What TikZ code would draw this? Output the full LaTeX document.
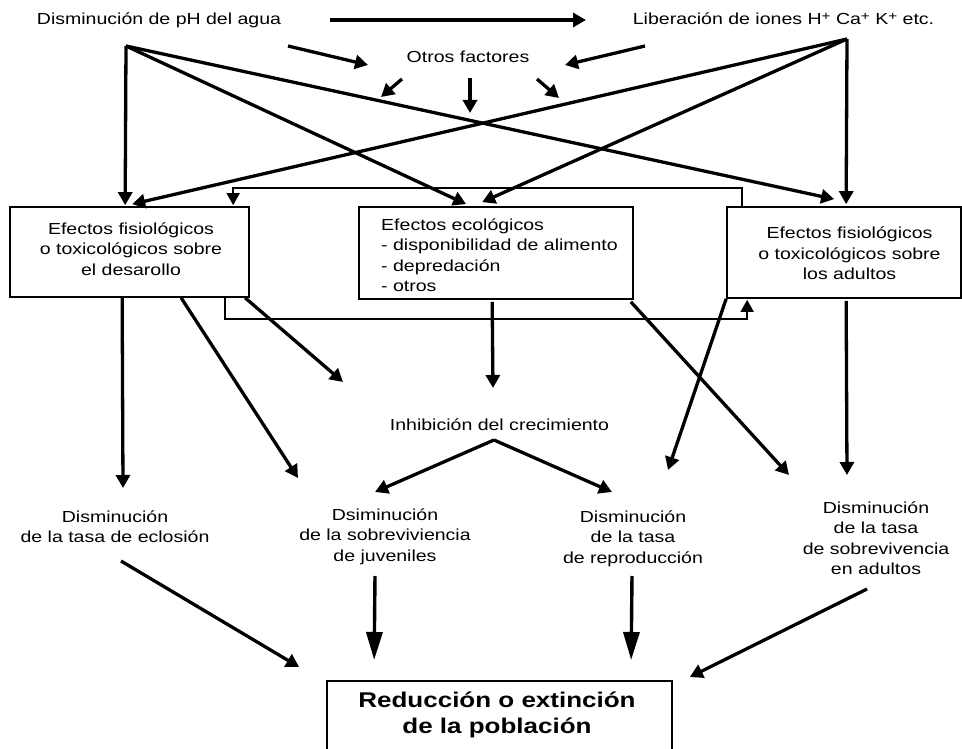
\documentclass[tikz,border=0pt]{standalone}
\usepackage{fontspec}
\setmainfont[FakeStretch=1.22]{Liberation Sans}
\usetikzlibrary{arrows.meta,calc}

% raised plus sign for the ion charges
\newcommand\ionplus{\raisebox{4.2pt}{\fontsize{12.5}{12.5}\selectfont+}}

\tikzset{
  lbl/.style={inner sep=0pt, anchor=base, font=\fontsize{16}{20.5}\selectfont},
  titlefont/.style={font=\fontsize{21.3}{26}\selectfont\bfseries},
  box/.style={draw, line width=1.7pt, inner sep=0pt},
  arr/.style={line width=3.3pt, -{Triangle[length=13pt,width=14pt]}},
  bigarr/.style={line width=3.4pt, -{Triangle[length=28pt,width=16pt]}},
  fb/.style={line width=1.6pt, -{Triangle[length=12pt,width=13pt]}},
}

\begin{document}
\begin{tikzpicture}[x=1pt,y=-1pt]
\useasboundingbox (0,0) rectangle (962,749);
\clip (0,0) rectangle (962,749);

% top row
\node[lbl] (ph)  at (159,24.5) {Disminución de pH del agua};
\node[lbl] (lib) at (783.5,25) {Liberación de iones H\ionplus{} Ca\ionplus{} K\ionplus{} etc.};
\node[lbl] (of)  at (468,63)   {Otros factores};

\coordinate (P1) at ($(ph.base)+(-33,21.5)$);
\coordinate (P2) at ($(lib.base)+(63.5,14)$);

% boxes
\node[box, minimum width=239pt, minimum height=90pt] (b1) at (129.5,252) {};
\node[box, minimum width=274pt, minimum height=92pt] (b2) at (496,253) {};
\node[box, minimum width=234pt, minimum height=91pt] (b3) at (844,252.5) {};
\node[box, minimum width=345pt, minimum height=120pt, anchor=north] (pop) at (499.5,680) {};

\node[lbl] (t1) at (131,234) {\begin{tabular}[t]{@{}c@{}}Efectos fisiológicos\\o toxicológicos sobre\\el desarollo\end{tabular}};
\node[lbl, anchor=base west] (t2) at (381,230) {\begin{tabular}[t]{@{}l@{}}Efectos ecológicos\\- disponibilidad de alimento\\- depredación\\- otros\end{tabular}};
\node[lbl] (t3) at (849.5,239) {\begin{tabular}[t]{@{}c@{}}Efectos fisiológicos\\o toxicológicos sobre\\los adultos\end{tabular}};

\node[lbl] (inh) at (499.5,430) {Inhibición del crecimiento};

\node[lbl] (l1) at (115,522) {\begin{tabular}[t]{@{}c@{}}Disminución\\de la tasa de eclosión\end{tabular}};
\node[lbl] (l2) at (385,520) {\begin{tabular}[t]{@{}c@{}}Dsiminución\\de la sobreviviencia\\de juveniles\end{tabular}};
\node[lbl] (l3) at (633,522) {\begin{tabular}[t]{@{}c@{}}Disminución\\de la tasa\\de reproducción\end{tabular}};
\node[lbl] (l4) at (876,513) {\begin{tabular}[t]{@{}c@{}}Disminución\\de la tasa\\de sobrevivencia\\en adultos\end{tabular}};

\node[lbl, titlefont] (ttl) at (497,707) {\begin{tabular}[t]{@{}c@{}}Reducción o extinción\\de la población\end{tabular}};

% top arrows
\draw[arr] ($(ph.base)+(171,-4.5)$) -- ($(lib.base)+(-197.5,-5)$);
\draw[arr] ($(of.base)+(-180,-17)$) -- ($(of.base)+(-100,2)$);
\draw[arr] ($(of.base)+(177,-17)$) -- ($(of.base)+(97,2)$);
\draw[arr] ($(of.base)+(-66,16)$) -- ($(of.base)+(-87,34)$);
\draw[arr] ($(of.base)+(2,15)$) -- ($(of.base)+(2,50)$);
\draw[arr] ($(of.base)+(69,16)$) -- ($(of.base)+(91,35)$);

% from the pH drop
\draw[arr] (P1) -- ($(b1.north west)+(116,-1)$);
\draw[arr] (P1) -- ($(b2.north west)+(108,-2)$);
\draw[arr] (P1) -- ($(b3.north west)+(108,-7)$);
% from the ion release
\draw[arr] (P2) -- ($(b3.north west)+(120,-2)$);
\draw[arr] (P2) -- ($(b1.north west)+(123,-2)$);
\draw[arr] (P2) -- ($(b2.north west)+(124,-4)$);

% feedback between the two physiological boxes
\draw[fb] ($(b3.north west)+(16,0)$) -- ++(0,-18) -| ($(b1.north west)+(224,-1)$);
\draw[fb] ($(b1.south west)+(216,0)$) -- ++(0,21) -| ($(b3.south west)+(21,1)$);

% from the boxes downwards
\draw[arr] ($(b1.south west)+(113,0)$) -- ($(l1.base)+(8,-34)$);
\draw[arr] ($(b1.south west)+(172,0)$) -- ($(l2.base)+(-87,-42)$);
\draw[arr] ($(b1.south west)+(236,0)$) -- ($(inh.base)+(-156.5,-48)$);
\draw[arr] ($(b2.south west)+(134,2)$) -- ($(inh.base)+(-6.5,-42)$);
\draw[arr] ($(b2.south east)+(-3,2)$) -- ($(l4.base)+(-87,-38)$);
\draw[arr] ($(b3.south west)+(120,2)$) -- ($(l4.base)+(-29,-38)$);
\draw[arr] (b3.south west) -- ($(l3.base)+(35,-52)$);

% growth inhibition
\coordinate (ij) at ($(inh.base)+(-5.5,10)$);
\draw[arr] (ij) -- ($(l2.base)+(-10,-28)$);
\draw[arr] (ij) -- ($(l3.base)+(-21,-30)$);

% towards the population
\draw[arr] ($(l1.base)+(6,39)$) -- ($(pop.north west)+(-27,-13)$);
\draw[bigarr] ($(l2.base)+(-10,56)$) -- ($(pop.north west)+(48,-20)$);
\draw[bigarr] ($(l3.base)+(-1,54)$) -- ($(pop.north west)+(305,-20)$);
\draw[arr] ($(l4.base)+(-9,76)$) -- ($(pop.north east)+(17,-3)$);
\end{tikzpicture}
\end{document}
